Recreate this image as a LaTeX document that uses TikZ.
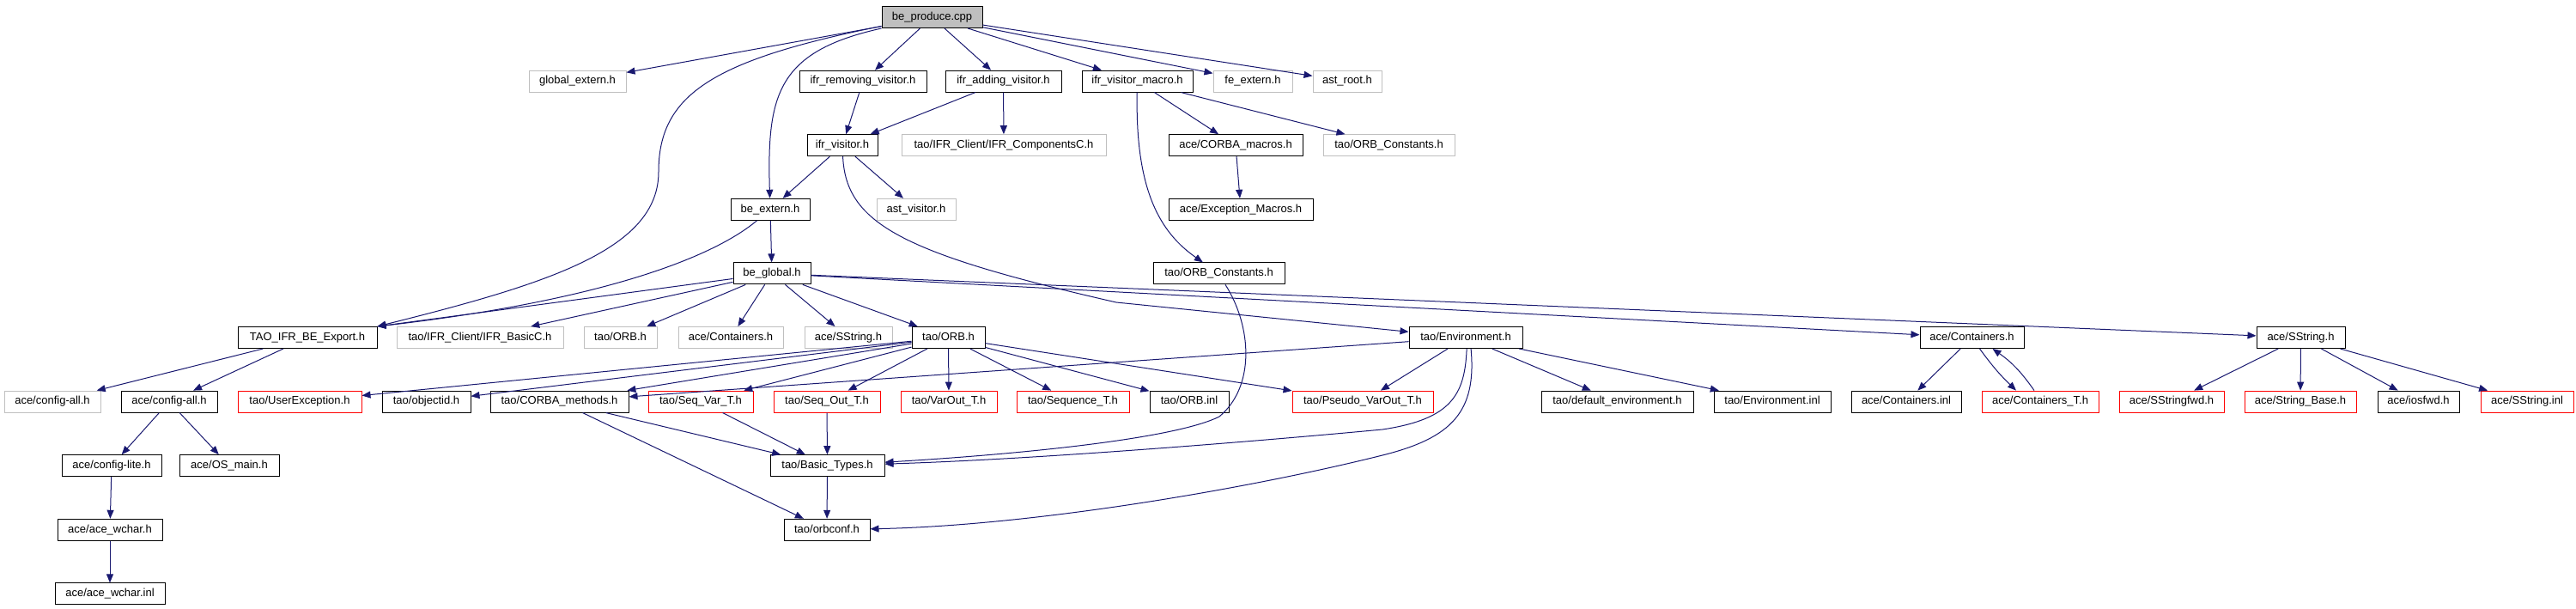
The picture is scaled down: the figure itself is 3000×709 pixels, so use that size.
\documentclass[tikz,border=0pt]{standalone}
\usepackage{fontspec}
\setmainfont{Liberation Sans}
\usetikzlibrary{arrows.meta}
\definecolor{midnightblue}{RGB}{25,25,112}
\definecolor{grey75}{RGB}{191,191,191}
\tikzset{
	hdr/.style={draw=black, line width=1pt, minimum height=25pt, inner sep=0pt, text height=9.5pt, text depth=2.8pt, font=\fontsize{13}{15}\selectfont},
	hdrgrey/.style={hdr, draw=grey75},
	hdrred/.style={hdr, draw=red},
	hdrroot/.style={hdr, fill=grey75},
	incl/.style={midnightblue, line width=1pt, -{Triangle[length=10pt,width=8pt]}}
}

\begin{document}
\begin{tikzpicture}[x=1pt, y=-1pt]
			%%%%% START %%%%%
			\useasboundingbox (0, 0) rectangle (3000, 709);
			
			\node[hdrroot, minimum width=117pt] (prod) at (1085.5, 20) {be\_produce.cpp};
			
			\node[hdrgrey, minimum width=113pt] (gext) at (672.5, 94.6) {global\_extern.h};
			\node[hdr, minimum width=148pt] (irv) at (1005, 94.6) {ifr\_removing\_visitor.h};
			\node[hdr, minimum width=135pt] (iav) at (1168.5, 94.6) {ifr\_adding\_visitor.h};
			\node[hdr, minimum width=129pt] (ivm) at (1324.5, 94.6) {ifr\_visitor\_macro.h};
			\node[hdrgrey, minimum width=92pt] (fext) at (1459, 94.6) {fe\_extern.h};
			\node[hdrgrey, minimum width=80pt] (aroot) at (1569, 94.6) {ast\_root.h};
			
			\node[hdr, minimum width=82pt] (ivis) at (981, 169.2) {ifr\_visitor.h};
			\node[hdrgrey, minimum width=238pt] (icomp) at (1169, 169.2) {tao/IFR\_Client/IFR\_ComponentsC.h};
			\node[hdr, minimum width=156pt] (cmac) at (1439, 169.2) {ace/CORBA\_macros.h};
			\node[hdrgrey, minimum width=153pt] (oconsg) at (1617.5, 169.2) {tao/ORB\_Constants.h};
			
			\node[hdr, minimum width=92pt] (bext) at (897, 243.8) {be\_extern.h};
			\node[hdrgrey, minimum width=92pt] (avis) at (1067, 243.8) {ast\_visitor.h};
			\node[hdr, minimum width=168pt] (emac) at (1445, 243.8) {ace/Exception\_Macros.h};
			
			\node[hdr, minimum width=90pt] (bglob) at (899, 318.4) {be\_global.h};
			\node[hdr, minimum width=153pt] (ocons) at (1419.5, 318.4) {tao/ORB\_Constants.h};
			
			\node[hdr, minimum width=162pt] (tiex) at (358, 393) {TAO\_IFR\_BE\_Export.h};
			\node[hdrgrey, minimum width=194pt] (ibas) at (559, 393) {tao/IFR\_Client/IFR\_BasicC.h};
			\node[hdrgrey, minimum width=85pt] (orbg) at (722.5, 393) {tao/ORB.h};
			\node[hdrgrey, minimum width=122pt] (contg) at (851, 393) {ace/Containers.h};
			\node[hdrgrey, minimum width=102pt] (sstrg) at (988, 393) {ace/SString.h};
			\node[hdr, minimum width=85pt] (orb) at (1104.5, 393) {tao/ORB.h};
			\node[hdr, minimum width=132pt] (env) at (1707, 393) {tao/Environment.h};
			\node[hdr, minimum width=121pt] (cont) at (2296.5, 393) {ace/Containers.h};
			\node[hdr, minimum width=103pt] (sstr) at (2679.5, 393) {ace/SString.h};
			
			\node[hdrgrey, minimum width=112pt] (cfgg) at (61, 467.6) {ace/config-all.h};
			\node[hdr, minimum width=112pt] (cfg) at (197, 467.6) {ace/config-all.h};
			\node[hdrred, minimum width=144pt] (uexc) at (349, 467.6) {tao/UserException.h};
			\node[hdr, minimum width=103pt] (oid) at (496.5, 467.6) {tao/objectid.h};
			\node[hdr, minimum width=161pt] (cmeth) at (651.5, 467.6) {tao/CORBA\_methods.h};
			\node[hdrred, minimum width=122pt] (sqvar) at (816, 467.6) {tao/Seq\_Var\_T.h};
			\node[hdrred, minimum width=124pt] (sqout) at (963, 467.6) {tao/Seq\_Out\_T.h};
			\node[hdrred, minimum width=112pt] (varout) at (1105, 467.6) {tao/VarOut\_T.h};
			\node[hdrred, minimum width=131pt] (seqt) at (1249.5, 467.6) {tao/Sequence\_T.h};
			\node[hdr, minimum width=92pt] (orbinl) at (1385, 467.6) {tao/ORB.inl};
			\node[hdrred, minimum width=164pt] (pvar) at (1587, 467.6) {tao/Pseudo\_VarOut\_T.h};
			\node[hdr, minimum width=177pt] (denv) at (1883.5, 467.6) {tao/default\_environment.h};
			\node[hdr, minimum width=136pt] (envinl) at (2064, 467.6) {tao/Environment.inl};
			\node[hdr, minimum width=128pt] (continl) at (2220, 467.6) {ace/Containers.inl};
			\node[hdrred, minimum width=136pt] (contt) at (2376, 467.6) {ace/Containers\_T.h};
			\node[hdrred, minimum width=122pt] (sfwd) at (2529, 467.6) {ace/SStringfwd.h};
			\node[hdrred, minimum width=130pt] (sbase) at (2679, 467.6) {ace/String\_Base.h};
			\node[hdr, minimum width=95pt] (iosfwd) at (2816.5, 467.6) {ace/iosfwd.h};
			\node[hdrred, minimum width=108pt] (sinl) at (2943, 467.6) {ace/SString.inl};
			
			\node[hdr, minimum width=116pt] (clite) at (130, 542.2) {ace/config-lite.h};
			\node[hdr, minimum width=116pt] (osmain) at (267, 542.2) {ace/OS\_main.h};
			\node[hdr, minimum width=133pt] (btyp) at (963.5, 542.2) {tao/Basic\_Types.h};
			
			\node[hdr, minimum width=122pt] (wch) at (128, 616.8) {ace/ace\_wchar.h};
			\node[hdr, minimum width=100pt] (orbc) at (963, 616.8) {tao/orbconf.h};
			
			\node[hdr, minimum width=128pt] (wchi) at (128, 691.4) {ace/ace\_wchar.inl};
			
			% be_produce.cpp
			\draw[incl] (prod) -- (gext);
			\draw[incl] (prod) -- (irv);
			\draw[incl] (prod) -- (iav);
			\draw[incl] (prod) -- (ivm);
			\draw[incl] (prod) -- (fext);
			\draw[incl] (prod) -- (aroot);
			\draw[incl] (prod.south west) .. controls (905, 60) and (893, 110) .. (bext);
			\draw[incl] (prod.190) .. controls (830, 70) and (767, 110) .. (767, 200) .. controls (767, 290) and (640, 330) .. (tiex.north east);
			
			\draw[incl] (irv) -- (ivis);
			\draw[incl] (iav) -- (ivis);
			\draw[incl] (iav) -- (icomp);
			\draw[incl] (ivm) -- (cmac);
			\draw[incl] (ivm) -- (oconsg);
			\draw[incl] (ivm) .. controls (1322, 220) and (1350, 270) .. (ocons);
			\draw[incl] (cmac) -- (emac);
			
			\draw[incl] (ivis) -- (bext);
			\draw[incl] (ivis) -- (avis);
			\draw[incl] (ivis) .. controls (985, 260) and (1050, 295) .. (1300, 352) -- (env);
			
			\draw[incl] (bext) -- (bglob);
			\draw[incl] (bext) .. controls (830, 300) and (700, 350) .. (tiex.north east);
			
			% be_global.h
			\draw[incl] (bglob) -- (tiex.north east);
			\draw[incl] (bglob) -- (ibas);
			\draw[incl] (bglob) -- (orbg);
			\draw[incl] (bglob) -- (contg);
			\draw[incl] (bglob) -- (sstrg);
			\draw[incl] (bglob) -- (orb);
			\draw[incl] (bglob) -- (cont);
			\draw[incl] (bglob) -- (sstr);
			
			\draw[incl] (ocons.300) .. controls (1458, 380) and (1462, 450) .. (1420, 485) .. controls (1370, 510) and (1200, 528) .. (btyp);
			
			% tao/ORB.h
			\draw[incl] (orb) -- (uexc);
			\draw[incl] (orb) -- (oid);
			\draw[incl] (orb) -- (cmeth);
			\draw[incl] (orb) -- (sqvar);
			\draw[incl] (orb) -- (sqout);
			\draw[incl] (orb) -- (varout);
			\draw[incl] (orb) -- (seqt);
			\draw[incl] (orb) -- (orbinl);
			\draw[incl] (orb) -- (pvar);
			
			% tao/Environment.h
			\draw[incl] (env) -- (cmeth);
			\draw[incl] (env) -- (pvar);
			\draw[incl] (env) -- (denv);
			\draw[incl] (env) -- (envinl);
			\draw[incl] (env.275) .. controls (1706, 460) and (1690, 488) .. (1610, 500) .. controls (1450, 515) and (1200, 535) .. (btyp);
			\draw[incl] (env.295) .. controls (1720, 480) and (1690, 510) .. (1610, 530) .. controls (1450, 570) and (1200, 612) .. (orbc);
			
			\draw[incl] ([xshift=9pt]cont.south) to[bend right=5] ([xshift=-28pt]contt.north);
			\draw[incl] ([xshift=-7pt]contt.north) to[bend right=10] ([xshift=24pt]cont.south);
			\draw[incl] (cont) -- (continl);
			
			\draw[incl] (sstr) -- (sfwd);
			\draw[incl] (sstr) -- (sbase);
			\draw[incl] (sstr) -- (iosfwd);
			\draw[incl] (sstr) -- (sinl);
			
			% ace/config
			\draw[incl] (tiex) -- (cfgg);
			\draw[incl] (tiex) -- (cfg);
			\draw[incl] (cfg) -- (clite);
			\draw[incl] (cfg) -- (osmain);
			\draw[incl] (clite) -- (wch);
			\draw[incl] (wch) -- (wchi);
			
			\draw[incl] (cmeth) -- (btyp);
			\draw[incl] (cmeth) -- (orbc);
			\draw[incl] (sqvar) -- (btyp);
			\draw[incl] (sqout) -- (btyp);
			\draw[incl] (btyp) -- (orbc);
			
			%%%%% END %%%%%
\end{tikzpicture}
\end{document}
